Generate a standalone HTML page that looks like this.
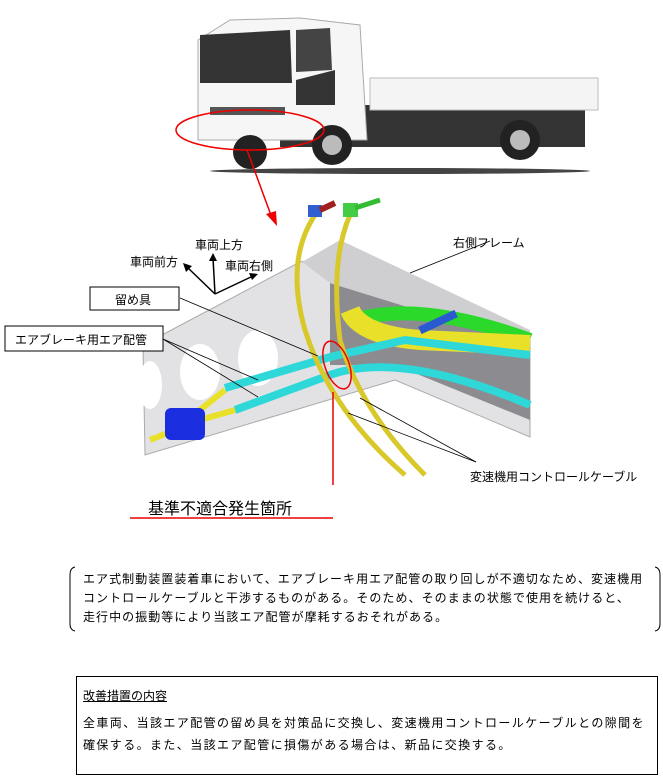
<!DOCTYPE html>
<html><head><meta charset="utf-8"><style>
body{margin:0;background:#fff;width:663px;height:781px;overflow:hidden;position:relative;font-family:"Liberation Sans","Noto Sans CJK JP",sans-serif;}
.t{position:absolute;font-size:12px;color:#000;white-space:nowrap;}
</style></head><body>
<svg width="663" height="781" style="position:absolute;left:0;top:0">
<!-- truck -->
<ellipse cx="400" cy="171" rx="190" ry="3" fill="#444"/>
<rect x="280" y="105" width="305" height="42" fill="#333"/>
<rect x="370" y="78" width="228" height="32" fill="#f4f4f4" stroke="#bbb"/>
<polygon points="198,40 230,20 300,18 360,25 367,140 198,140" fill="#f6f6f6" stroke="#aaa"/>
<polygon points="200,35 290,30 292,83 200,83" fill="#333"/>
<polygon points="296,30 330,28 332,70 296,72" fill="#444"/>
<polygon points="296,80 335,70 335,105 296,105" fill="#333"/>
<rect x="210" y="107" width="75" height="8" fill="#555"/>
<circle cx="250" cy="152" r="17" fill="#222"/>
<circle cx="332" cy="145" r="20" fill="#222"/><circle cx="332" cy="145" r="10" fill="#bbb"/>
<circle cx="520" cy="140" r="20" fill="#222"/><circle cx="520" cy="140" r="10" fill="#bbb"/>
<ellipse cx="250" cy="130" rx="74" ry="20" fill="none" stroke="#e00" stroke-width="1.5"/>
<line x1="247" y1="150" x2="272" y2="218" stroke="#e00" stroke-width="1.5"/>
<polygon points="266,214 277,226 276,211" fill="#e00"/>
<!-- frame -->
<polygon points="143,345 300,262 340,255 530,340 530,437 395,380 145,455" fill="#e2e2e4" stroke="#aaa"/>
<polygon points="330,283 530,345 530,420 395,365 330,365" fill="#8c8c90"/>
<polygon points="302,262 340,240 530,330 530,345 330,283" fill="#cfcfd2"/>
<ellipse cx="150" cy="385" rx="12" ry="24" fill="#fff"/>
<ellipse cx="200" cy="372" rx="20" ry="28" fill="#fff"/>
<ellipse cx="258" cy="358" rx="20" ry="28" fill="#fff"/>
<path d="M355,320 Q420,300 530,340" stroke="#2bd92b" stroke-width="14" fill="none"/>
<path d="M350,310 Q360,335 420,340 L530,345" stroke="#e9e02a" stroke-width="20" fill="none"/>
<rect x="418" y="318" width="40" height="8" fill="#2a5ad0" transform="rotate(-25 438 322)"/>
<path d="M225,388 L330,357 L405,340 L530,355" stroke="#2fd8d8" stroke-width="8" fill="none"/>
<path d="M235,410 L330,375 Q400,350 530,405" stroke="#2fd8d8" stroke-width="8" fill="none"/>
<path d="M150,440 L175,430 L225,390" stroke="#e9e02a" stroke-width="6" fill="none"/>
<path d="M200,420 L235,410" stroke="#e9e02a" stroke-width="6" fill="none"/>
<rect x="165" y="408" width="40" height="32" rx="6" fill="#1a2ee0"/>
<path d="M315,215 Q285,260 305,330 Q330,410 405,475" stroke="#d8c82a" stroke-width="5" fill="none"/>
<path d="M350,215 Q330,260 340,340 Q360,410 425,475" stroke="#d8c82a" stroke-width="5" fill="none"/>
<rect x="308" y="205" width="14" height="12" fill="#3060d0"/>
<path d="M320,210 L335,203" stroke="#a02020" stroke-width="6"/>
<rect x="343" y="203" width="15" height="14" fill="#44cc44"/>
<path d="M355,208 L380,200" stroke="#33bb33" stroke-width="5"/>
<ellipse cx="337" cy="365" rx="12" ry="25" fill="none" stroke="#e00" stroke-width="1.5" transform="rotate(-20 337 365)"/>
<line x1="333" y1="392" x2="333" y2="485" stroke="#e00" stroke-width="1.5"/>
<line x1="130" y1="518" x2="333" y2="518" stroke="#e00" stroke-width="1.5"/>
<line x1="180" y1="298" x2="318" y2="356" stroke="#000" stroke-width="0.8"/>
<line x1="163" y1="339" x2="258" y2="380" stroke="#000" stroke-width="0.8"/>
<line x1="163" y1="339" x2="258" y2="397" stroke="#000" stroke-width="0.8"/>
<line x1="490" y1="241" x2="410" y2="273" stroke="#000" stroke-width="0.8"/>
<line x1="476" y1="462" x2="360" y2="398" stroke="#000" stroke-width="0.8"/>
<line x1="476" y1="462" x2="348" y2="413" stroke="#000" stroke-width="0.8"/>
<g stroke="#000" stroke-width="1.5" fill="none"><path d="M215,294 L187,267"/><path d="M215,294 L213,258"/><path d="M215,294 L253,276"/></g>
<polygon points="183,263 192,266 186,272" fill="#000"/>
<polygon points="213,253 209,261 217,261" fill="#000"/>
<polygon points="258,274 249,273 252,280" fill="#000"/>
<rect x="90" y="287" width="89" height="23" fill="#fff" stroke="#000"/>
<rect x="5" y="326" width="158" height="25" fill="#fff" stroke="#000"/>
<path d="M75,567 Q70,568 70,575 L70,624 Q70,630 75,631" stroke="#000" fill="none"/>
<path d="M655,567 Q660,568 660,575 L660,624 Q660,630 655,631" stroke="#000" fill="none"/>
<rect x="76.5" y="676.5" width="581" height="98" fill="none" stroke="#000"/>
</svg>
<div class="t" style="left:195px;top:236px">車両上方</div>
<div class="t" style="left:130px;top:253px">車両前方</div>
<div class="t" style="left:225px;top:257px">車両右側</div>
<div class="t" style="left:453px;top:234px">右側フレーム</div>
<div class="t" style="left:115px;top:291px">留め具</div>
<div class="t" style="left:15px;top:331px">エアブレーキ用エア配管</div>
<div class="t" style="left:470px;top:468px">変速機用コントロールケーブル</div>
<div class="t" style="left:148px;top:495px;font-size:16px">基準不適合発生箇所</div>
<div class="t" style="left:83px;top:570px;line-height:19px;letter-spacing:1.05px">エア式制動装置装着車において、エアブレーキ用エア配管の取り回しが不適切なため、変速機用<br>コントロールケーブルと干渉するものがある。そのため、そのままの状態で使用を続けると、<br>走行中の振動等により当該エア配管が摩耗するおそれがある。</div>
<div class="t" style="left:83px;top:687px;text-decoration:underline">改善措置の内容</div>
<div class="t" style="left:83px;top:712px;line-height:22px;letter-spacing:1.4px">全車両、当該エア配管の留め具を対策品に交換し、変速機用コントロールケーブルとの隙間を<br>確保する。また、当該エア配管に損傷がある場合は、新品に交換する。</div>
</body></html>
